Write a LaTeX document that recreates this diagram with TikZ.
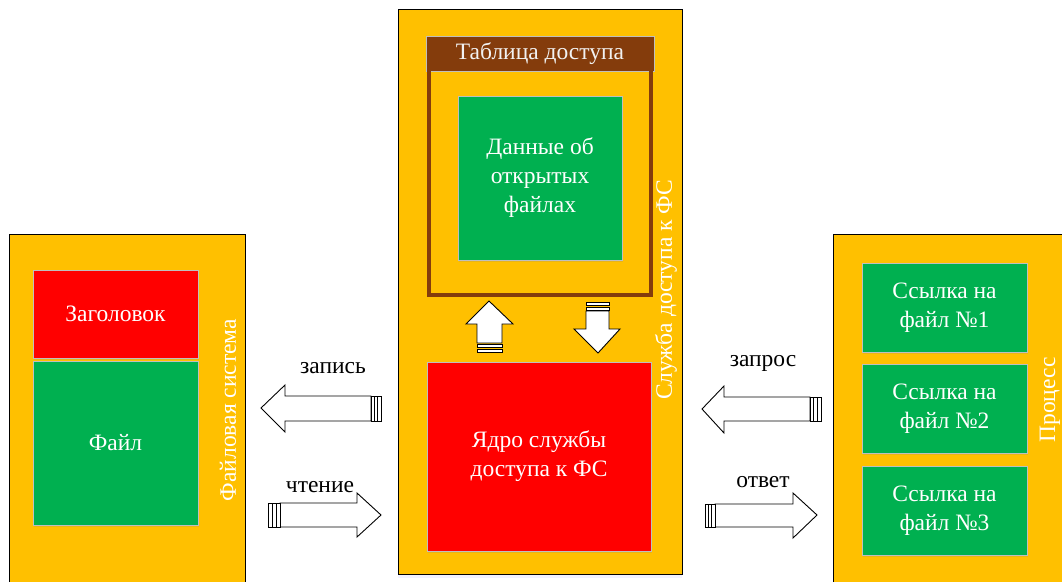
\documentclass[tikz,border=0pt]{standalone}
\usepackage{fontspec}
\setmainfont{Liberation Serif}
\usetikzlibrary{shadows}
\definecolor{panelorange}{HTML}{FFC000}
\definecolor{boxred}{HTML}{FF0000}
\definecolor{boxgreen}{HTML}{00B050}
\definecolor{tablebrown}{HTML}{843C0C}
\definecolor{edgegray}{HTML}{BFBFBF}
\tikzset{
  txt/.style={font=\fontsize{23.5}{29}\selectfont},
  panel/.style={draw=black, line width=1pt, fill=panelorange, inner sep=0pt},
  box/.style={draw=edgegray, line width=1pt, inner sep=0pt, txt, text=white, align=center,
    drop shadow={opacity=0.18, shadow xshift=1pt, shadow yshift=-2pt}},
  redbox/.style={box, fill=boxred},
  greenbox/.style={box, fill=boxgreen},
  sidelabel/.style={txt, text=white, rotate=90},
  flowlabel/.style={txt, text=black},
  fat/.style={draw=black, line width=0.9pt, fill=white, line join=miter},
  band/.style={draw=black, line width=0.7pt, fill=white},
}
\begin{document}
\begin{tikzpicture}[x=1pt, y=-1pt]
\clip (0,0) rectangle (1062,581);
\fill[white] (0,0) rectangle (1062,581);

% ---- file system ----
\node[panel, minimum width=236pt, minimum height=352pt] (fs) at (127,410) {};
\node[redbox, minimum width=165pt, minimum height=88pt] (head) at (115.5,314) {Заголовок};
\node[greenbox, minimum width=165pt, minimum height=164pt] (file) at (115.5,443) {Файл};
\node[sidelabel] (fslbl) at (228,410) {Файловая система};

% ---- file access service ----
\node[panel, minimum width=284pt, minimum height=565pt,
  drop shadow={opacity=0.12, shadow xshift=0pt, shadow yshift=-4pt, color=blue!40}] (svc) at (540,291.5) {};
\node[draw=edgegray, line width=0.8pt, fill=tablebrown, minimum width=228pt, minimum height=35pt,
  inner sep=0pt, txt, text=white!95!black] (tab) at (540,53.5) {Таблица доступа};
\coordinate (frameA) at (429,71);
\coordinate (frameB) at (651,295);
\draw[tablebrown, line width=4pt] (frameA) -- (frameA |- frameB) -- (frameB) -- (frameB |- frameA);
\node[greenbox, minimum width=164pt, minimum height=164pt] (open) at (540,178)
  {Данные об\\открытых\\файлах};
\node[redbox, minimum width=224pt, minimum height=189pt] (core) at (539,456.5)
  {Ядро службы\\доступа к ФС};
\node[sidelabel] (svclbl) at (666,290) {Служба доступа к ФС};

% ---- process ----
\node[panel, minimum width=237pt, minimum height=352pt] (proc) at (951.5,410) {};
\node[greenbox, minimum width=165pt, minimum height=89pt] (ref1) at (944.5,307.5) {Ссылка на\\файл №1};
\node[greenbox, minimum width=165pt, minimum height=89pt] (ref2) at (944.5,408.5) {Ссылка на\\файл №2};
\node[greenbox, minimum width=165pt, minimum height=89pt] (ref3) at (944.5,510.5) {Ссылка на\\файл №3};
\node[sidelabel] (proclbl) at (1050,400) {Процесс};

% ---- block arrows between core and table ----
\draw[fat] (489,301) -- (513,324) -- (502,324) -- (502,343) -- (477,343) -- (477,324) -- (466,324) -- cycle;
\draw[band] (477,344.5) rectangle (502,347.5);
\draw[band] (477,349.5) rectangle (502,352.5);

\draw[fat] (598,353) -- (620,329) -- (609,329) -- (609,311) -- (586,311) -- (586,329) -- (574,329) -- cycle;
\draw[band] (586,302.5) rectangle (609,305.5);
\draw[band] (586,307.5) rectangle (609,310.5);

% ---- write (to file system) ----
\draw[fat] (261,408) -- (285,385) -- (285,396) -- (371,396) -- (371,421) -- (285,421) -- (285,432) -- cycle;
\draw[band] (371,396) rectangle (374.3,421);
\draw[band] (374.3,396) rectangle (377.7,421);
\draw[band] (377.7,396) rectangle (381,421);
\node[flowlabel] (wr) at (333,368) {запись};

% ---- read (from file system) ----
\draw[fat] (381,515) -- (357,493) -- (357,503) -- (280,503) -- (280,527) -- (357,527) -- (357,537) -- cycle;
\draw[band] (268,503) rectangle (272,527);
\draw[band] (272,503) rectangle (276,527);
\draw[band] (276,503) rectangle (280,527);
\node[flowlabel] (rd) at (320,487) {чтение};

% ---- request (from process) ----
\draw[fat] (702,409) -- (724,386) -- (724,397) -- (810,397) -- (810,421) -- (724,421) -- (724,433) -- cycle;
\draw[band] (810,397) rectangle (813.7,421);
\draw[band] (813.7,397) rectangle (817.3,421);
\draw[band] (817.3,397) rectangle (821,421);
\node[flowlabel] (rq) at (763,363) {запрос};

% ---- reply (to process) ----
\draw[fat] (817,515) -- (793,493) -- (793,504) -- (715,504) -- (715,527) -- (793,527) -- (793,538) -- cycle;
\draw[band] (705,504) rectangle (708.3,527);
\draw[band] (708.3,504) rectangle (711.7,527);
\draw[band] (711.7,504) rectangle (715,527);
\node[flowlabel] (rp) at (763,482) {ответ};
\end{tikzpicture}
\end{document}
